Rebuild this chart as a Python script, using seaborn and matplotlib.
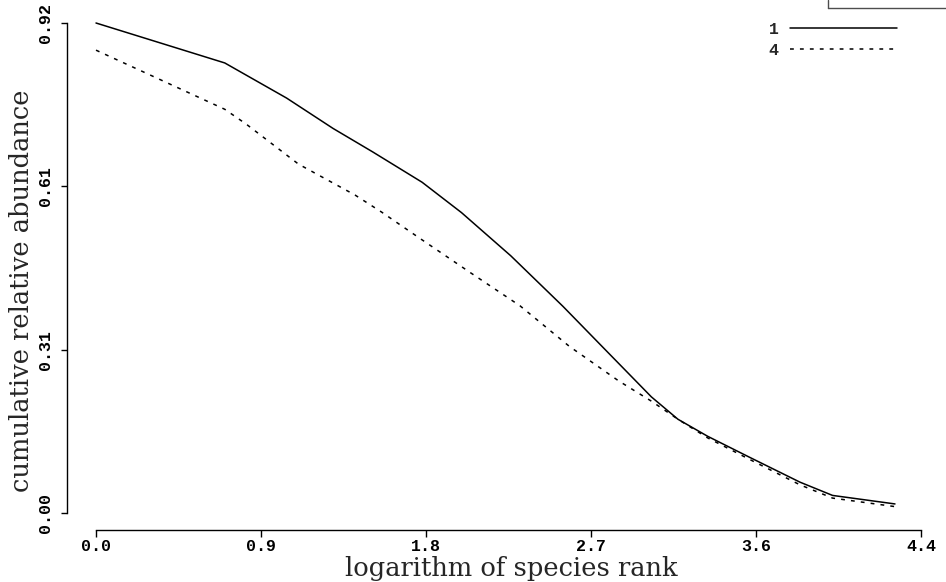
import matplotlib
matplotlib.use("Agg")
import matplotlib.pyplot as plt
from matplotlib.lines import Line2D
from matplotlib.font_manager import FontProperties
import numpy as np
import pandas as pd
import seaborn as sns

# ---- data ----
series_names = ["1", "4"]
x_1 = [0.0, 0.693, 1.026, 1.276, 1.489, 1.755, 1.967, 2.232, 2.513, 2.762,
       2.989, 3.132, 3.292, 3.521, 3.788, 3.964, 4.30]
y_1 = [0.920, 0.845, 0.779, 0.722, 0.678, 0.621, 0.564, 0.483, 0.388, 0.299,
       0.218, 0.176, 0.144, 0.104, 0.058, 0.033, 0.017]
x_4 = [0.0, 0.693, 0.809, 1.090, 1.394, 1.537, 1.750, 2.016, 2.282, 2.547,
       2.813, 2.989, 3.132, 3.292, 3.521, 3.788, 3.964, 4.30]
y_4 = [0.869, 0.758, 0.730, 0.655, 0.597, 0.565, 0.514, 0.451, 0.389, 0.313,
       0.248, 0.210, 0.176, 0.141, 0.100, 0.053, 0.028, 0.012]
x_ticks = [0.0, 0.888, 1.776, 2.664, 3.552, 4.44]
x_tick_labels = ["0.0", "0.9", "1.8", "2.7", "3.6", "4.4"]
y_ticks = [0.0, 0.3067, 0.6133, 0.92]
y_tick_labels = ["0.00", "0.31", "0.61", "0.92"]
x_label = "logarithm of species rank"
y_label = "cumulative relative abundance"

df = pd.DataFrame({
    "x": x_1 + x_4,
    "y": y_1 + y_4,
    "series": [series_names[0]] * len(x_1) + [series_names[1]] * len(x_4),
})

sns.set_style("ticks")
W, H = 946, 582
fig = plt.figure(figsize=(W / 100, H / 100), dpi=100)
ax = fig.add_axes([67 / W, 52 / H, 854 / W, 507 / H])

sns.lineplot(data=df, x="x", y="y", hue="series", style="series",
             hue_order=series_names, style_order=series_names,
             palette=["black", "black"], dashes=["", (2.5, 4)],
             estimator=None, sort=False, lw=1.1, legend=False, ax=ax)
for ln in ax.get_lines():
    ln.set_clip_on(False)

ax.set_xlim(-29 / 185.8, 4.44)
ax.set_ylim(-17 / 532.6, 0.92)

for s in ["top", "right"]:
    ax.spines[s].set_visible(False)
ax.spines["left"].set_bounds(0, 0.92)
ax.spines["bottom"].set_bounds(0, 4.44)
for s in ["left", "bottom"]:
    ax.spines[s].set_linewidth(1.0)
    ax.spines[s].set_color("black")

tick_font = FontProperties(family="Liberation Mono", weight="bold", size=12)
ax.set_xticks(x_ticks)
ax.set_xticklabels(x_tick_labels, fontproperties=tick_font)
ax.set_yticks(y_ticks)
ax.set_yticklabels(y_tick_labels, fontproperties=tick_font)
ax.tick_params(axis="x", direction="out", length=5, width=1.0, pad=1.5, colors="black")
ax.tick_params(axis="y", direction="out", length=4, width=1.0, pad=6, colors="black")
for lab in ax.get_yticklabels():
    lab.set_rotation(90)
    lab.set_va("center")

label_font = dict(family="DejaVu Serif", size=18.5)
ax.set_xlabel(x_label, **label_font)
ax.set_ylabel(y_label, **label_font)
ax.xaxis.label.set_va("top")
ax.yaxis.label.set_va("center")
ax.yaxis.label.set_ha("center")
ax.xaxis.set_label_coords((511 - 67) / 854, (530 - 556) / 507)
ax.yaxis.set_label_coords((22 - 67) / 854, (530 - 291) / 507)

leg = ax.legend(ax.get_lines()[:2], series_names, loc="upper right",
                bbox_to_anchor=(897 / W, 1 - 22 / H), bbox_transform=fig.transFigure,
                frameon=False, markerfirst=False, handlelength=6.4,
                handletextpad=0.7, labelspacing=0.35, borderpad=0, borderaxespad=0,
                prop=FontProperties(family="Liberation Mono", weight="bold", size=12))

# partially visible box at the top-right edge
fig.add_artist(Line2D([828 / W, 828 / W], [1, 1 - 8 / H], transform=fig.transFigure,
                      color="0.3", lw=1))
fig.add_artist(Line2D([828 / W, 1], [1 - 8 / H, 1 - 8 / H], transform=fig.transFigure,
                      color="0.3", lw=1))

fig.savefig("out.png", dpi=100, facecolor="white")
